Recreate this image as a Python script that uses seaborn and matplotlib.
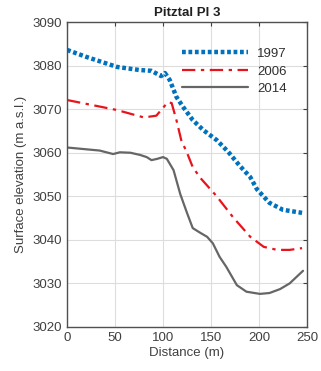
import numpy as np
import pandas as pd
import matplotlib
matplotlib.use("Agg")
import matplotlib.pyplot as plt
import seaborn as sns

# Data
dist_1997 = [0, 20, 52, 75, 88, 98, 102, 107, 114, 121, 131, 142, 156, 168, 180, 191, 198, 211, 225, 245]
elev_1997 = [3083.6, 3082.0, 3079.7, 3079.0, 3078.8, 3077.6, 3078.3, 3076.7, 3072.8, 3070.5, 3067.5, 3065.2, 3062.9, 3060.2, 3057.0, 3054.4, 3051.6, 3048.5, 3046.9, 3046.2]

dist_2006 = [0, 25, 52, 80, 93, 100, 105, 109, 114, 119, 125, 131, 139, 156, 173, 191, 205, 219, 232, 245]
elev_2006 = [3072.1, 3071.0, 3069.8, 3068.1, 3068.5, 3070.3, 3071.6, 3071.4, 3067.5, 3062.9, 3060.0, 3056.7, 3054.2, 3050.0, 3045.2, 3040.7, 3038.4, 3037.7, 3037.7, 3038.1]

dist_2014 = [0, 34, 48, 55, 66, 76, 83, 88, 94, 100, 104, 111, 118, 125, 131, 139, 146, 152, 159, 166, 177, 187, 201, 211, 222, 232, 246]
elev_2014 = [3061.2, 3060.5, 3059.7, 3060.1, 3060.0, 3059.5, 3059.0, 3058.3, 3058.6, 3059.0, 3058.6, 3056.0, 3050.5, 3046.2, 3042.7, 3041.6, 3040.7, 3039.2, 3036.1, 3033.8, 3029.6, 3028.1, 3027.6, 3027.8, 3028.7, 3030.0, 3032.9]

years = ["1997", "2006", "2014"]
x_ticks = [0, 50, 100, 150, 200, 250]
y_ticks = [3020, 3030, 3040, 3050, 3060, 3070, 3080, 3090]

df = pd.concat([
    pd.DataFrame({"Distance": dist_1997, "Elevation": elev_1997, "Year": "1997"}),
    pd.DataFrame({"Distance": dist_2006, "Elevation": elev_2006, "Year": "2006"}),
    pd.DataFrame({"Distance": dist_2014, "Elevation": elev_2014, "Year": "2014"}),
])

sns.set_style("white")
plt.rcParams['font.family'] = ['Liberation Sans', 'DejaVu Sans']

fig = plt.figure(figsize=(3.21, 3.71), dpi=100)
ax = fig.add_axes([0.209, 0.1186, 0.747, 0.822])

palette = {"1997": "#0072BD", "2006": "#E8141C", "2014": "#666666"}
sns.lineplot(data=df, x="Distance", y="Elevation", hue="Year", palette=palette,
             sort=False, ax=ax, legend=False)

styles = {"1997": dict(ls=(0, (0.85, 0.6)), lw=3.2),
          "2006": dict(ls=(0, (6, 2.5, 1.5, 2.5)), lw=1.6),
          "2014": dict(ls="-", lw=1.6)}
for line, yr in zip(ax.get_lines(), years):
    line.set_linestyle(styles[yr]["ls"])
    line.set_linewidth(styles[yr]["lw"])
    line.set_label(yr)

ax.set_xlim(0, 250)
ax.set_ylim(3020, 3090)
ax.set_xticks(x_ticks)
ax.set_yticks(y_ticks)
ax.grid(True, color="#dddddd", lw=0.8)
ax.tick_params(direction="in", top=True, right=True, length=3, labelsize=9.5,
               colors="#404040", width=0.8)
for s in ax.spines.values():
    s.set_color("#505050")
    s.set_linewidth(1.0)
ax.set_xlabel("Distance (m)", fontsize=9.5, color="#404040", labelpad=2)
ax.set_ylabel("Surface elevation (m a.s.l.)", fontsize=9.5, color="#404040", labelpad=4)
ax.set_title("Pitztal Pl 3", fontsize=9.5, fontweight="bold", color="#202020", pad=4)

ax.legend(loc="upper right", frameon=False, fontsize=9.5, handlelength=5.0,
          labelspacing=0.4, borderaxespad=0.4, bbox_to_anchor=(0.96, 0.95),
          handletextpad=0.7, labelcolor="#303030")

fig.savefig("out.png", dpi=100)
